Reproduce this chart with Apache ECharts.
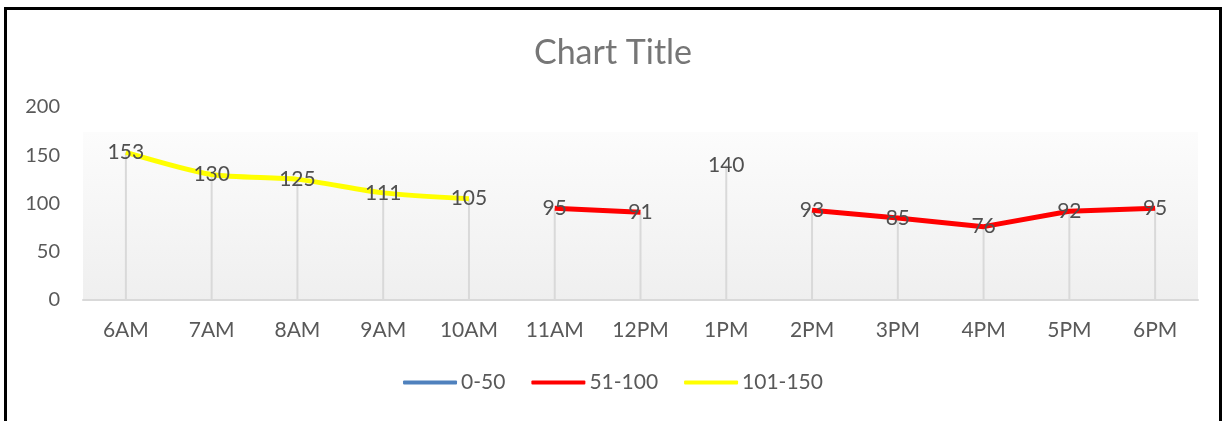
<!DOCTYPE html>
<html><head><meta charset="utf-8">
<script src="https://cdn.jsdelivr.net/npm/echarts@6/dist/echarts.min.js"></script>
<style>
html,body{margin:0;padding:0;background:#fff;}
#frame{position:absolute;left:4px;top:7px;width:1218px;height:420px;border-left:3px solid #000;border-top:3px solid #000;border-right:3px solid #000;box-sizing:border-box;}
#chart{position:absolute;left:0;top:0;width:1226px;height:421px;}
</style></head>
<body>
<div id="chart"></div>
<div id="frame"></div>
<script>
const categories = ['6AM','7AM','8AM','9AM','10AM','11AM','12PM','1PM','2PM','3PM','4PM','5PM','6PM'];
const s0_50 = [null,null,null,null,null,null,null,null,null,null,null,null,null];
const s51_100 = [null,null,null,null,null,95,91,null,93,85,76,92,95];
const s101_150 = [153,130,125,111,105,null,null,140,null,null,null,null,null];
const yTicks = [0,50,100,150,200];

const dropTops = categories.map((c,i)=>{
  const v=[s0_50[i],s51_100[i],s101_150[i]].filter(x=>x!=null);
  return v.length?Math.max(...v):null;
});

const FONT = 'Lato';
const labelCfg = {show:true, position:'inside', color:'#505050', fontFamily:FONT, fontSize:21};

const chart = echarts.init(document.getElementById('chart'));
chart.setOption({
  animation:false,
  backgroundColor:'#fff',
  title:{text:'Chart Title', left:'center', top:31,
    textStyle:{fontFamily:FONT, fontSize:34, fontWeight:'normal', color:'#767676'}},
  legend:{
    bottom:23, left:'center', itemWidth:54, itemHeight:4, itemGap:26, icon:'roundRect',
    textStyle:{fontFamily:FONT, fontSize:21, color:'#595959', padding:[0,0,0,-1]},
    data:['0-50','51-100','101-150']
  },
  grid:{left:83, right:28, top:107, bottom:121, show:true, borderWidth:0,
    backgroundColor:{type:'linear',x:0,y:0,x2:0,y2:1,colorStops:[
      {offset:0,color:'#ffffff'},{offset:0.13,color:'#ffffff'},
      {offset:0.131,color:'#fcfcfc'},{offset:1,color:'#efefef'}]}},
  xAxis:{type:'category', data:categories, boundaryGap:true,
    axisLine:{lineStyle:{color:'#d9d9d9', width:2}},
    axisTick:{show:false},
    axisLabel:{fontFamily:FONT, fontSize:21, color:'#595959', margin:20}},
  yAxis:{type:'value', min:yTicks[0], max:yTicks[yTicks.length-1], interval:50,
    axisLine:{show:false}, axisTick:{show:false}, splitLine:{show:false},
    axisLabel:{fontFamily:FONT, fontSize:20, color:'#595959', margin:23}},
  series:[
    {name:'drop', type:'bar', data:dropTops, barWidth:2, silent:true,
      itemStyle:{color:'#d9d9d9'}, z:1, legendHoverLink:false},
    {name:'0-50', type:'line', data:s0_50, symbol:'circle', symbolSize:0.1,
      lineStyle:{color:'#4f81bd', width:5}, itemStyle:{color:'#4f81bd'}, z:3, label:labelCfg},
    {name:'51-100', type:'line', data:s51_100, symbol:'circle', symbolSize:0.1,
      lineStyle:{color:'#ff0000', width:5}, itemStyle:{color:'#ff0000'}, z:3,
      label:labelCfg},
    {name:'101-150', type:'line', data:s101_150, symbol:'circle', symbolSize:0.1, smooth:0.25,
      lineStyle:{color:'#ffff00', width:5}, itemStyle:{color:'#ffff00'}, z:3,
      label:labelCfg}
  ]
});
</script>
</body></html>
